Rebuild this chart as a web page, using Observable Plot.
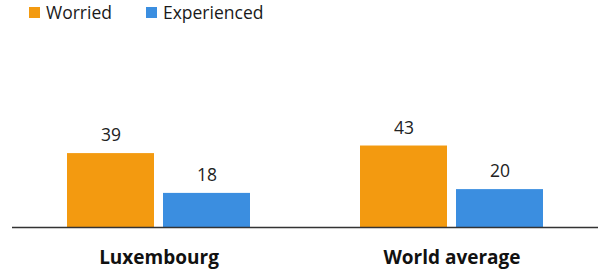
<!DOCTYPE html>
<html>
<head>
<meta charset="utf-8">
<script src="https://cdn.jsdelivr.net/npm/d3@7"></script>
<script src="https://cdn.jsdelivr.net/npm/@observablehq/plot@0.6"></script>
<style>
  body { margin: 0; background: #fff; font-family: "Open Sans", sans-serif; }
  #legend { height: 25px; display: flex; align-items: center; padding-left: 29px; font-size: 17.5px; color: #1a1a1a; box-sizing: border-box; padding-bottom: 1px; }
  #legend span.sw { display: inline-block; width: 11px; height: 11px; margin-right: 6px; }
  #legend span.item { display: inline-flex; align-items: center; margin-right: 34px; }
</style>
</head>
<body>
<div id="legend"></div>
<div id="chart"></div>
<script>
const categories = ["Luxembourg", "World average"];
const seriesNames = ["Worried", "Experienced"];
const worried = [39, 43];
const experienced = [18, 20];
const colors = ["#f39a10", "#3b8ee0"];

const data = [];
categories.forEach((c, i) => {
  data.push({category: c, series: seriesNames[0], value: worried[i]});
  data.push({category: c, series: seriesNames[1], value: experienced[i]});
});

const legend = document.getElementById("legend");
seriesNames.forEach((s, i) => {
  const item = document.createElement("span");
  item.className = "item";
  const sw = document.createElement("span");
  sw.className = "sw";
  sw.style.background = colors[i];
  item.appendChild(sw);
  item.appendChild(document.createTextNode(s));
  legend.appendChild(item);
});

const chart = Plot.plot({
  width: 598,
  height: 246,
  marginLeft: 12,
  marginRight: 0,
  marginTop: 12.5,
  marginBottom: 44,
  style: { fontFamily: "Open Sans, sans-serif", background: "#fff" },
  fx: { domain: categories, padding: 0, label: null },
  x: { domain: seriesNames, paddingInner: 0.094, paddingOuter: 0.573, axis: null },
  y: { domain: [0, 100], axis: null },
  color: { domain: seriesNames, range: colors },
  marks: [
    Plot.barY(data, { fx: "category", x: "series", y: "value", fill: "series" }),
    Plot.text(data, { fx: "category", x: "series", y: "value", text: d => String(d.value), dy: -18, fontSize: 17.5, fill: "#222" }),
    Plot.ruleY([0], { stroke: "#333", strokeWidth: 1.3 }),
    Plot.axisFx({ anchor: "bottom", tickSize: 0, tickPadding: 23, fontSize: 19, fontWeight: "bold", fill: "#111", label: null })
  ]
});
document.getElementById("chart").appendChild(chart);
</script>
</body>
</html>
